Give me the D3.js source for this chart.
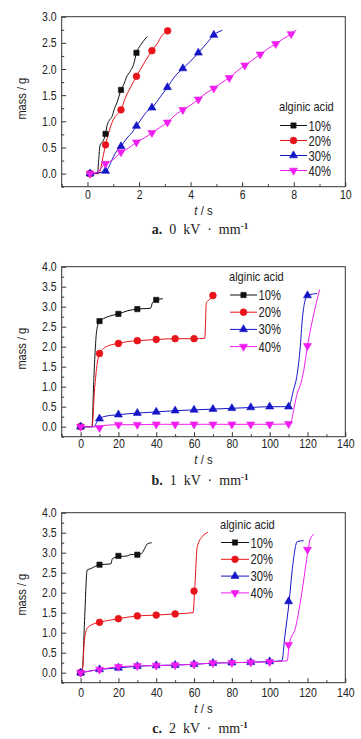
<!DOCTYPE html>
<html>
<head>
<meta charset="utf-8">
<script src="https://cdn.jsdelivr.net/npm/d3@7"></script>
<style>
  body { margin: 0; background: #fff; }
  svg text { font-family: "Liberation Sans", Arial, sans-serif; fill: #222; }
  svg text.cap { font-family: "Liberation Serif", "Times New Roman", serif; }
</style>
</head>
<body>
<svg width="361" height="739"></svg>
<script>
var svg = d3.select("svg");

// legend / series names
var SERIES = ["10%", "20%", "30%", "40%"];
var COLORS = ["#111111", "#e8141b", "#1515c8", "#f01cf0"];
var SHAPES = ["square", "circle", "up", "down"];

// ---- panel a: 0 kV/mm ----
var a10Line = [[0.1,0],[0.39,0],[0.43,0.23],[0.49,0.55],[0.6,0.62],[0.7,0.76],[0.75,0.9],[0.86,1.03],[0.95,1.09],[1.05,1.25],[1.14,1.35],[1.3,1.6],[1.43,1.73],[1.5,1.83],[1.66,1.96],[1.79,2.09],[1.9,2.31],[2.05,2.45],[2.18,2.54],[2.31,2.62]];
var a10Mark = [[0.1,0],[0.7,0.76],[1.3,1.6],[1.9,2.31]];
var a20Line = [[0.1,0],[0.43,0],[0.62,0.36],[0.7,0.55],[0.82,0.78],[1.0,1.03],[1.14,1.13],[1.3,1.22],[1.47,1.45],[1.66,1.64],[1.9,1.86],[2.05,1.99],[2.24,2.15],[2.5,2.35],[2.7,2.48],[2.89,2.64],[3.11,2.73]];
var a20Mark = [[0.1,0],[0.7,0.55],[1.3,1.22],[1.9,1.86],[2.5,2.35],[3.11,2.73]];
var a30Line = [[0.1,0],[0.7,0.04],[0.95,0.26],[1.08,0.39],[1.3,0.52],[1.53,0.68],[1.72,0.78],[1.9,0.91],[2.11,1.06],[2.31,1.19],[2.5,1.26],[2.83,1.47],[3.1,1.65],[3.41,1.87],[3.7,2.01],[4.0,2.15],[4.3,2.31],[4.64,2.5],[4.9,2.65],[5.23,2.74]];
var a30Mark = [[0.1,0],[0.7,0.05],[1.3,0.52],[1.9,0.91],[2.5,1.26],[3.1,1.65],[3.7,2.01],[4.3,2.31],[4.9,2.65]];
var a40Line = [[0.1,0],[0.4,0.03],[0.55,0.12],[0.7,0.19],[1.0,0.27],[1.3,0.41],[1.6,0.49],[1.9,0.6],[2.2,0.68],[2.5,0.78],[2.8,0.88],[3.1,0.98],[3.4,1.12],[3.7,1.22],[4.0,1.31],[4.3,1.42],[4.6,1.54],[4.9,1.63],[5.2,1.74],[5.5,1.83],[5.8,1.96],[6.1,2.07],[6.4,2.17],[6.7,2.28],[7.0,2.39],[7.3,2.48],[7.6,2.58],[7.9,2.67],[8.1,2.75]];
var a40Mark = [[0.1,0],[0.7,0.19],[1.3,0.41],[1.9,0.6],[2.5,0.78],[3.1,0.98],[3.7,1.22],[4.3,1.42],[4.9,1.63],[5.5,1.83],[6.1,2.07],[6.7,2.28],[7.3,2.48],[7.9,2.67]];

// ---- panel b: 1 kV/mm ----
var b10Line = [[0,0],[6,0],[7,1.2],[8.5,2.4],[10,2.64],[12,2.7],[15,2.76],[20,2.82],[25,2.9],[30,2.94],[33,2.95],[37,2.96],[38,3.1],[40,3.17],[43.5,3.2]];
var b10Mark = [[0,0],[10,2.64],[20,2.82],[30,2.94],[40,3.17]];
var b20Line = [[0,0],[6,0],[7.5,1.0],[9,1.65],[10,1.83],[12,1.95],[15,2.03],[20,2.08],[25,2.13],[30,2.15],[40,2.18],[50,2.2],[60,2.2],[65.7,2.21],[66.5,3.1],[68,3.17],[70,3.28]];
var b20Mark = [[0,0],[10,1.83],[20,2.08],[30,2.15],[40,2.18],[50,2.2],[60,2.2],[70,3.28]];
var b30Line = [[0,0],[7,0],[9,0.15],[10,0.2],[13,0.26],[20,0.3],[30,0.34],[40,0.37],[50,0.4],[60,0.42],[70,0.44],[80,0.46],[90,0.48],[100,0.5],[110,0.5],[112.5,0.9],[114.5,1.3],[116,1.9],[117.4,2.75],[118.8,3.17],[120,3.28],[125,3.33]];
var b30Mark = [[0,0],[10,0.2],[20,0.3],[30,0.34],[40,0.37],[50,0.4],[60,0.42],[70,0.44],[80,0.46],[90,0.48],[100,0.5],[110,0.5],[120,3.28]];
var b40Line = [[0,0],[7,0],[10,-0.03],[12,0.03],[20,0.05],[30,0.05],[40,0.06],[50,0.06],[60,0.06],[70,0.06],[80,0.06],[90,0.06],[100,0.06],[110,0.07],[111.5,0.15],[113,0.5],[114.6,0.83],[116.3,1.05],[118,1.4],[120,2.02],[123,2.75],[126.4,3.43]];
var b40Mark = [[0,0],[10,-0.03],[20,0.05],[30,0.05],[40,0.06],[50,0.06],[60,0.06],[70,0.06],[80,0.06],[90,0.06],[100,0.06],[110,0.07],[120,2.02]];

// ---- panel c: 2 kV/mm ----
var c10Line = [[0,0],[1,0.1],[2,1.2],[3.5,2.57],[5.3,2.6],[10,2.7],[16,2.72],[16.8,2.85],[20,2.9],[25,2.92],[26,2.95],[30,2.96],[32,2.97],[33.5,3.07],[35.3,3.22],[37.6,3.25]];
var c10Mark = [[0,0],[10,2.7],[20,2.92],[30,2.95]];
var c20Line = [[0,0],[1,0.1],[2,0.8],[3.5,1.11],[6,1.2],[10,1.26],[15,1.31],[20,1.35],[30,1.42],[40,1.44],[50,1.47],[59.5,1.5],[60.3,2.04],[61.7,3.15],[64.3,3.4],[67.3,3.51]];
var c20Mark = [[0,0],[10,1.26],[20,1.35],[30,1.42],[40,1.44],[50,1.47],[60,2.04]];
var c30Line = [[0,0],[10,0.08],[20,0.12],[30,0.16],[40,0.18],[50,0.19],[60,0.21],[70,0.24],[80,0.25],[90,0.26],[100,0.28],[106.5,0.3],[108,0.9],[110.3,1.78],[112,2.6],[114.6,3.28],[118,3.3]];
var c30Mark = [[0,0],[10,0.08],[20,0.12],[30,0.16],[40,0.18],[50,0.19],[60,0.21],[70,0.24],[80,0.25],[90,0.26],[100,0.28],[110,1.78]];
var c40Line = [[0,0],[10,0.08],[20,0.15],[30,0.17],[40,0.18],[50,0.19],[60,0.21],[70,0.24],[80,0.25],[90,0.26],[100,0.27],[109.3,0.3],[110.3,0.7],[113.8,1.15],[117,2.0],[120.4,3.08],[121.5,3.35],[123.4,3.46]];
var c40Mark = [[0,0],[10,0.08],[20,0.15],[30,0.17],[40,0.18],[50,0.19],[60,0.21],[70,0.24],[80,0.25],[90,0.26],[100,0.27],[110,0.7],[120,3.08]];

// tick values
var aXTicks = [0, 2, 4, 6, 8, 10];
var aXMinor = [-1, 1, 3, 5, 7, 9];
var aYTicks = [0, 0.5, 1, 1.5, 2, 2.5, 3];
var bcXTicks = [0, 20, 40, 60, 80, 100, 120, 140];
var bcXMinor = [-10, 10, 30, 50, 70, 90, 110, 130];
var bcYTicks = [0, 0.5, 1, 1.5, 2, 2.5, 3, 3.5, 4];
var captions = [["a", "0"], ["b", "1"], ["c", "2"]];

var L = 61.7, R = 345.3;

var panels = [
  { top: 16.7, bottom: 186.7, xDomain: [-1, 10], yDomain: [-0.25, 3],
    xTicks: aXTicks, xMinor: aXMinor, yTicks: aYTicks,
    lines: [a10Line, a20Line, a30Line, a40Line], marks: [a10Mark, a20Mark, a30Mark, a40Mark],
    tickY: 12.6, titleY: 215, capY: 234, cap: captions[0],
    leg: { x: 280, titleY: 111, y0: 125.5, dy: 15, len: 27 } },
  { top: 266.7, bottom: 436.7, xDomain: [-10, 140], yDomain: [-0.25, 4],
    xTicks: bcXTicks, xMinor: bcXMinor, yTicks: bcYTicks,
    lines: [b10Line, b20Line, b30Line, b40Line], marks: [b10Mark, b20Mark, b30Mark, b40Mark],
    tickY: 10.8, titleY: 464, capY: 485, cap: captions[1],
    leg: { x: 230, titleY: 281, y0: 295, dy: 17.2, len: 27 } },
  { top: 512.7, bottom: 682.7, xDomain: [-10, 140], yDomain: [-0.25, 4],
    xTicks: bcXTicks, xMinor: bcXMinor, yTicks: bcYTicks,
    lines: [c10Line, c20Line, c30Line, c40Line], marks: [c10Mark, c20Mark, c30Mark, c40Mark],
    tickY: 14, titleY: 713, capY: 733, cap: captions[2],
    leg: { x: 221, titleY: 529, y0: 542.5, dy: 16.8, len: 28 } }
];

// squeeze glyphs horizontally, the source uses a narrow sans
function condense(sel, f) {
  sel.each(function() {
    var w = this.getComputedTextLength();
    d3.select(this).attr("textLength", w * f).attr("lengthAdjust", "spacingAndGlyphs");
  });
}

function symbolPath(shape) {
  if (shape == "square") return d3.symbol().type(d3.symbolSquare).size(28)();
  if (shape == "circle") return d3.symbol().type(d3.symbolCircle).size(36)();
  return d3.symbol().type(d3.symbolTriangle).size(28)();
}

function addMarker(sel, i) {
  return sel.append("path")
    .attr("d", symbolPath(SHAPES[i]))
    .attr("fill", COLORS[i])
    .attr("stroke", COLORS[i])
    .attr("stroke-width", 0.6);
}

function drawPanel(p) {
  var g = svg.append("g");
  var x = d3.scaleLinear().domain(p.xDomain).range([L, R]);
  var y = d3.scaleLinear().domain(p.yDomain).range([p.bottom, p.top]);

  // minor ticks
  g.append("g")
      .attr("transform", "translate(0," + p.bottom + ")")
      .call(d3.axisBottom(x).tickValues(p.xMinor).tickSizeInner(-2.5).tickSizeOuter(0).tickFormat(""))
      .call(function(s) { s.select(".domain").remove(); });
  g.append("g")
      .attr("transform", "translate(" + L + ",0)")
      .call(d3.axisLeft(y).tickValues(p.yTicks.map(function(v) { return v - 0.25; })).tickSizeInner(-2.5).tickSizeOuter(0).tickFormat(""))
      .call(function(s) { s.select(".domain").remove(); });

  // major ticks + labels
  var xa = g.append("g")
      .attr("transform", "translate(0," + p.bottom + ")")
      .call(d3.axisBottom(x).tickValues(p.xTicks).tickSizeInner(-4.5).tickSizeOuter(0).tickPadding(0).tickFormat(d3.format("d")));
  xa.select(".domain").remove();
  xa.selectAll("text").attr("dy", null).attr("y", p.tickY);

  var ya = g.append("g")
      .attr("transform", "translate(" + L + ",0)")
      .call(d3.axisLeft(y).tickValues(p.yTicks).tickSizeInner(-4.5).tickSizeOuter(0).tickPadding(5).tickFormat(d3.format(".1f")));
  ya.select(".domain").remove();

  g.selectAll(".tick line").attr("stroke", "#333");
  g.selectAll(".tick text").attr("fill", "#222").attr("font-family", null).attr("font-size", null).style("font-size", "12.5px");
  condense(g.selectAll(".tick text"), 0.84);

  // frame
  g.append("rect")
      .attr("x", L).attr("y", p.top)
      .attr("width", R - L).attr("height", p.bottom - p.top)
      .attr("fill", "none").attr("stroke", "#333").attr("stroke-width", 1);

  // series
  var line = d3.line()
      .curve(d3.curveMonotoneX)
      .x(function(d) { return x(d[0]); })
      .y(function(d) { return y(d[1]); });

  p.lines.forEach(function(data, i) {
    g.append("path")
        .datum(data)
        .attr("fill", "none")
        .attr("stroke", COLORS[i])
        .attr("stroke-width", 1)
        .attr("d", line);
  });
  p.marks.forEach(function(data, i) {
    g.selectAll(".m" + i)
      .data(data).enter()
      .append("path")
        .attr("class", "m" + i)
        .attr("d", symbolPath(SHAPES[i]))
        .attr("transform", function(d) {
          return "translate(" + x(d[0]) + "," + y(d[1]) + ")" + (SHAPES[i] == "down" ? " rotate(180)" : "");
        })
        .attr("fill", COLORS[i])
        .attr("stroke", COLORS[i])
        .attr("stroke-width", 0.6);
  });

  // axis titles
  var t = g.append("text")
      .attr("x", (L + R) / 2)
      .attr("y", p.titleY)
      .attr("text-anchor", "middle")
      .style("font-size", "13.5px");
  t.append("tspan").style("font-style", "italic").text("t");
  t.append("tspan").text(" / s");
  condense(t, 0.84);

  var yt = g.append("text")
      .attr("transform", "translate(26," + ((p.top + p.bottom) / 2 - 3) + ") rotate(-90)")
      .attr("text-anchor", "middle")
      .style("font-size", "13.5px")
      .text("mass / g");
  condense(yt, 0.82);

  // legend
  var lg = g.append("g");
  var lt = lg.append("text")
      .attr("x", p.leg.x - 1)
      .attr("y", p.leg.titleY)
      .style("font-size", "13.5px")
      .text("alginic acid");
  condense(lt, 0.82);
  SERIES.forEach(function(name, i) {
    var yy = p.leg.y0 + i * p.leg.dy;
    lg.append("line")
        .attr("x1", p.leg.x).attr("x2", p.leg.x + p.leg.len)
        .attr("y1", yy).attr("y2", yy)
        .attr("stroke", COLORS[i]).attr("stroke-width", 1);
    addMarker(lg, i)
        .attr("transform", "translate(" + (p.leg.x + p.leg.len / 2) + "," + yy + ")" + (SHAPES[i] == "down" ? " rotate(180)" : ""));
    var lab = lg.append("text")
        .attr("x", p.leg.x + p.leg.len + 1.5)
        .attr("y", yy + 5)
        .style("font-size", "14px")
        .text(name);
    condense(lab, 0.8);
  });

  // caption
  var c = g.append("text")
      .attr("class", "cap")
      .attr("x", 200)
      .attr("y", p.capY)
      .attr("text-anchor", "middle")
      .style("font-size", "14px")
      .style("white-space", "pre")
      .attr("fill", "#111");
  c.append("tspan").style("font-weight", "bold").text(p.cap[0] + ".");
  c.append("tspan").text("  " + p.cap[1] + "  kV  \u00b7  mm");
  c.append("tspan").attr("dy", -5).style("font-size", "9px").style("font-weight", "bold").text("-1");
}

panels.forEach(drawPanel);
</script>
</body>
</html>
